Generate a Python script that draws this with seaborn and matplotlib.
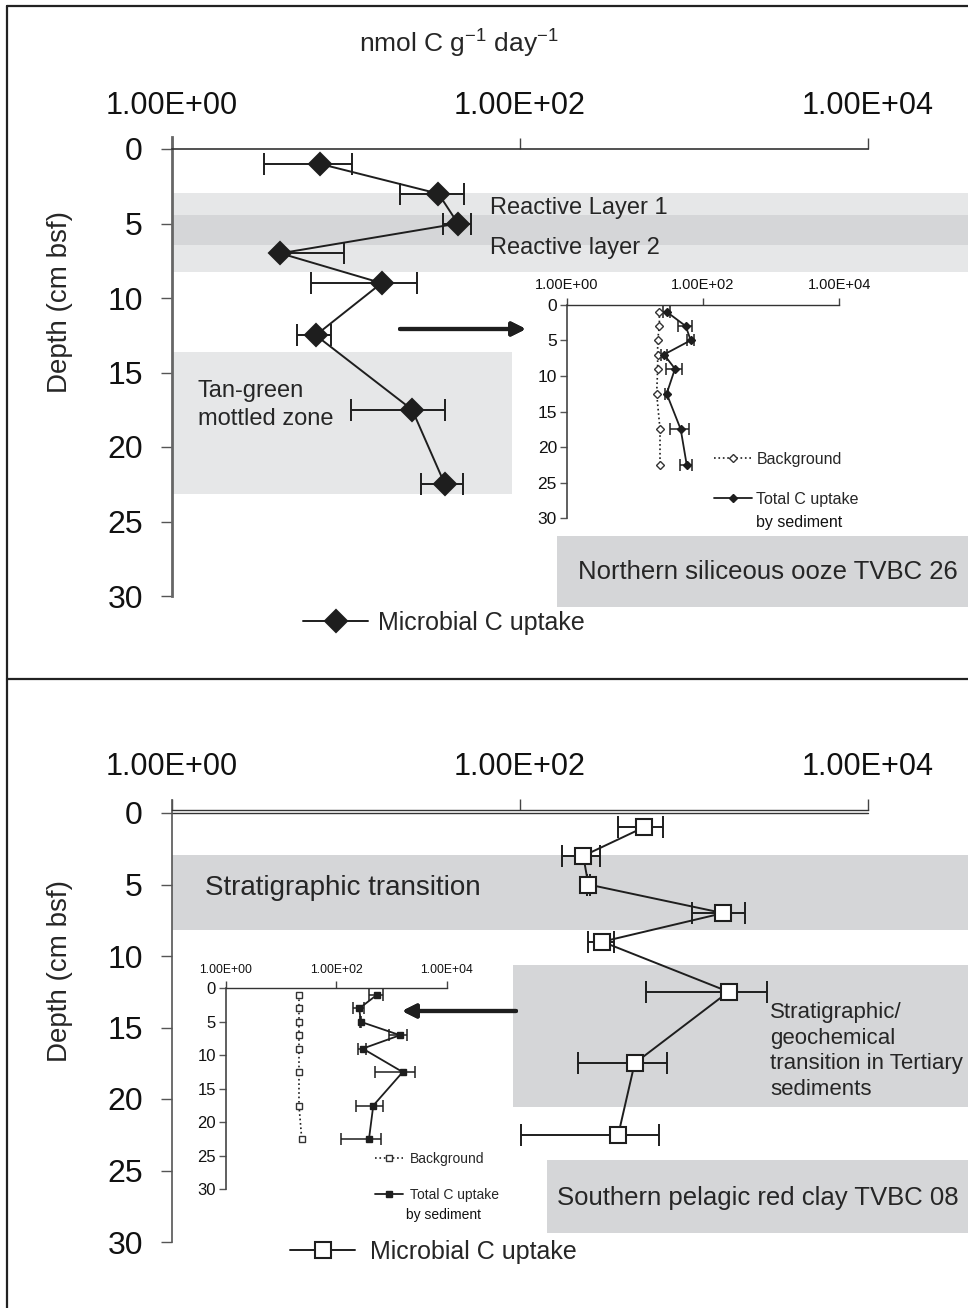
import matplotlib
matplotlib.use('Agg')
import matplotlib.pyplot as plt
from matplotlib.lines import Line2D
from matplotlib.ticker import NullLocator
import seaborn as sns
import pandas as pd

W, H = 968, 1308

# depth of each sample (cm bsf)
depth = [1, 3, 5, 7, 9, 12.5, 17.5, 22.5]

# TVBC 26 - northern siliceous ooze
north_microbial = [7.1, 34, 44, 4.2, 16, 6.7, 24, 37]
north_microbial_sd = [3.7, 13.5, 8, 5.6, 9.7, 1.5, 13.3, 10]
north_background = [22.9, 22.9, 21.6, 21.6, 21.6, 20.9, 23.4, 23.4]
north_total = [29.3, 55.7, 66, 26.8, 38.8, 29.3, 47.1, 57.7]
north_total_sd = [3, 13, 7, 3, 10, 1.5, 14.5, 11]

# TVBC 08 - southern pelagic red clay
south_microbial = [515, 231, 247, 1470, 297, 1580, 456, 367]
south_microbial_sd = [150, 57, 5, 490, 52, 1050, 240, 265]
south_background = [21.2, 21.2, 21.2, 21.2, 21.2, 21.2, 21.2, 23.8]
south_total = [541, 262, 278, 1428, 302, 1600, 469, 392]
south_total_sd = [150, 57, 5, 510, 50, 1100, 240, 268]

x_ticks = [1, 100, 10000]
x_labels = ['1.00E+00', '1.00E+02', '1.00E+04']
depth_ticks = [0, 5, 10, 15, 20, 25, 30]

LIGHT = '#e6e7e8'
DARK = '#d5d6d8'
INK = '#1e1e1e'

sns.set_style('ticks')
plt.rcParams['font.family'] = ['Liberation Sans', 'DejaVu Sans']
plt.rcParams['mathtext.default'] = 'regular'


def box(l, t, r, b):
    return [l / W, 1 - b / H, (r - l) / W, (b - t) / H]


def fx(x):
    return x / W


def fy(y):
    return 1 - y / H


def lower_err(vals, sd):
    # negative bar ends can't be shown on a log axis
    return [e if v - e > 0 else 0 for v, e in zip(vals, sd)]


def setup_axis(ax, xsize, ysize, ticklen, xpad, ypad, top_lw, left_lw, left_color):
    ax.set_xscale('log')
    ax.set_xlim(1, 1e4)
    ax.set_ylim(30, 0)
    ax.patch.set_alpha(0)
    ax.xaxis.tick_top()
    ax.set_xticks(x_ticks)
    ax.set_xticklabels(x_labels)
    ax.xaxis.set_minor_locator(NullLocator())
    ax.set_yticks(depth_ticks)
    ax.tick_params(axis='x', which='major', top=True, bottom=False, labeltop=True,
                   labelbottom=False, direction='out', length=ticklen, width=1,
                   color='#444', labelsize=xsize, pad=xpad, labelcolor='#111')
    ax.tick_params(axis='y', left=True, direction='out', length=ticklen, width=1,
                   color='#555', labelsize=ysize, pad=ypad, labelcolor='#111')
    for s in ['right', 'bottom']:
        ax.spines[s].set_visible(False)
    ax.spines['top'].set_linewidth(top_lw)
    ax.spines['top'].set_color('#333')
    ax.spines['left'].set_linewidth(left_lw)
    ax.spines['left'].set_color(left_color)


def main_panel(ax, vals, sd, marker, mfc, ms):
    df = pd.DataFrame({'depth': depth, 'uptake': vals})
    ax.errorbar(vals, depth, xerr=[lower_err(vals, sd), sd], fmt='none', ecolor=INK,
                elinewidth=1.4, capsize=8, capthick=1.4, zorder=3)
    sns.lineplot(data=df, x='uptake', y='depth', sort=False, estimator=None, ax=ax,
                 color=INK, lw=1.4, marker=marker, ms=ms, mfc=mfc, mec=INK, mew=1.5,
                 label='Microbial C uptake', zorder=4)
    ax.set_xlabel('')
    ax.set_ylabel('')


def inset_panel(ax, bg, tot, tot_sd, bg_marker, tot_marker, ms):
    df_bg = pd.DataFrame({'depth': depth, 'uptake': bg})
    df_tot = pd.DataFrame({'depth': depth, 'uptake': tot})
    sns.lineplot(data=df_bg, x='uptake', y='depth', sort=False, estimator=None, ax=ax,
                 color=INK, lw=1.2, linestyle=':', marker=bg_marker, ms=ms, mfc='white',
                 mec='#333', mew=1, label='Background', zorder=4)
    ax.errorbar(tot, depth, xerr=[lower_err(tot, tot_sd), tot_sd], fmt='none', ecolor=INK,
                elinewidth=1.1, capsize=4, capthick=1.1, zorder=3)
    sns.lineplot(data=df_tot, x='uptake', y='depth', sort=False, estimator=None, ax=ax,
                 color=INK, lw=1.3, marker=tot_marker, ms=ms, mfc=INK, mec=INK, mew=1,
                 label='Total C uptake', zorder=4)
    ax.set_xlabel('')
    ax.set_ylabel('')


fig = plt.figure(figsize=(W / 100, H / 100), dpi=100)

# ---------------- top panel: TVBC 26 ----------------
ax1 = fig.add_axes(box(172, 149, 868, 596))
setup_axis(ax1, 22, 23, 8, 12, 13, 1.2, 2.0, '#666')
ax1.spines['left'].set_bounds(-0.8, 30)
ax1.axhspan(2.95, 8.25, xmin=0, xmax=1.2, color=LIGHT, lw=0, zorder=0, clip_on=False)
ax1.axhspan(4.45, 6.45, xmin=0, xmax=1.2, color=DARK, lw=0, zorder=0, clip_on=False)
ax1.axhspan(13.65, 23.15, xmin=0, xmax=0.489, color=LIGHT, lw=0, zorder=0)
ax1.axhspan(25.95, 30.75, xmin=0.553, xmax=1.2, color=DARK, lw=0, zorder=0, clip_on=False)
main_panel(ax1, north_microbial, north_microbial_sd, 'D', INK, 11)
ax1.legend(loc='center left', bbox_to_anchor=((303 - 172) / 696, 1 - (623 - 149) / 447),
           frameon=False, fontsize=18, handlelength=2.6, handletextpad=0.4,
           borderpad=0, borderaxespad=0)

ins1 = fig.add_axes(box(566.7, 304.7, 839.3, 518.3))
setup_axis(ins1, 10.5, 12.5, 5, 4, 2, 1.0, 1.2, '#444')
inset_panel(ins1, north_background, north_total, north_total_sd, 'D', 'D', 4.5)
ins1.legend(loc='upper left', bbox_to_anchor=((714 - 566.7) / 272.6, 1 - (452 - 304.7) / 213.6),
            frameon=False, fontsize=11.5, handlelength=2.4, handletextpad=0.25,
            labelspacing=1.55, borderpad=0, borderaxespad=0)
fig.text(fx(756), fy(523), 'by sediment', fontsize=11.5, ha='left', va='center', color='#111')

fig.text(fx(459), fy(44), 'nmol C g$^{-1}$ day$^{-1}$', fontsize=19, ha='center', va='center')
fig.text(fx(60), fy(302), 'Depth (cm bsf)', fontsize=20, rotation=90, ha='center', va='center')
fig.text(fx(490), fy(208), 'Reactive Layer 1', fontsize=17, ha='left', va='center')
fig.text(fx(490), fy(248), 'Reactive layer 2', fontsize=17, ha='left', va='center')
fig.text(fx(198), fy(405), 'Tan-green\nmottled zone', fontsize=17, ha='left', va='center',
         linespacing=1.35)
fig.text(fx(578), fy(572), 'Northern siliceous ooze TVBC 26', fontsize=18.5, ha='left', va='center')
fig.add_artist(plt.annotate('', xy=(fx(526), fy(329)), xytext=(fx(400), fy(329)),
                            xycoords='figure fraction', textcoords='figure fraction',
                            arrowprops=dict(arrowstyle='-|>,head_length=0.8,head_width=0.4',
                                            lw=3, color=INK, shrinkA=0, shrinkB=0)))

# ---------------- bottom panel: TVBC 08 ----------------
ax2 = fig.add_axes(box(172, 813, 868, 1242))
setup_axis(ax2, 22, 23, 8, 12, 13, 1.0, 1.2, '#555')
ax2.spines['top'].set_position(('outward', 2.5))
ax2.spines['left'].set_bounds(-0.9, 30)
ax2.axhline(0, color='#333', lw=1.0, zorder=1, clip_on=False)
ax2.axhspan(2.94, 8.18, xmin=0, xmax=1.2, color=DARK, lw=0, zorder=0, clip_on=False)
ax2.axhspan(10.63, 20.56, xmin=0.49, xmax=1.2, color=DARK, lw=0, zorder=0, clip_on=False)
ax2.axhspan(24.3, 29.4, xmin=0.539, xmax=1.2, color=DARK, lw=0, zorder=0, clip_on=False)
main_panel(ax2, south_microbial, south_microbial_sd, 's', 'white', 12)
ax2.legend(loc='center left', bbox_to_anchor=((290 - 172) / 696, 1 - (1252 - 813) / 429),
           frameon=False, fontsize=18, handlelength=2.6, handletextpad=0.6,
           borderpad=0, borderaxespad=0)

ins2 = fig.add_axes(box(225.7, 988.3, 446.7, 1189.3))
setup_axis(ins2, 8.7, 12, 5, 4, 2, 1.0, 1.2, '#444')
inset_panel(ins2, south_background, south_total, south_total_sd, 's', 's', 4.5)
ins2.legend(loc='upper left', bbox_to_anchor=((375 - 225.7) / 221, 1 - (1152 - 988.3) / 201),
            frameon=False, fontsize=10, handlelength=2.0, handletextpad=0.5,
            labelspacing=1.6, borderpad=0, borderaxespad=0)
fig.text(fx(443), fy(1215), 'by sediment', fontsize=10, ha='center', va='center', color='#111')

fig.text(fx(60), fy(971), 'Depth (cm bsf)', fontsize=20, rotation=90, ha='center', va='center')
fig.text(fx(205), fy(888), 'Stratigraphic transition', fontsize=20, ha='left', va='center')
fig.text(fx(770), fy(1051), 'Stratigraphic/\ngeochemical\ntransition in Tertiary\nsediments',
         fontsize=16, ha='left', va='center', linespacing=1.3)
fig.text(fx(557), fy(1198), 'Southern pelagic red clay TVBC 08', fontsize=18.5, ha='left',
         va='center')
fig.add_artist(plt.annotate('', xy=(fx(402), fy(1011)), xytext=(fx(516), fy(1011)),
                            xycoords='figure fraction', textcoords='figure fraction',
                            arrowprops=dict(arrowstyle='-|>,head_length=0.8,head_width=0.4',
                                            lw=3, color=INK, shrinkA=0, shrinkB=0)))

# outer frame and divider
for xs, ys in [([7, 7], [6, 1308]), ([7, 968], [6, 6]), ([7, 968], [679, 679])]:
    fig.add_artist(Line2D([fx(v) for v in xs], [fy(v) for v in ys],
                          transform=fig.transFigure, color='#222', lw=1.6))

fig.savefig('out.png', dpi=100)
